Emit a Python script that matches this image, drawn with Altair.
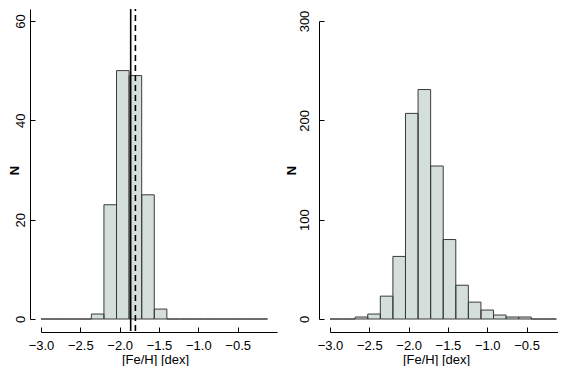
import altair as alt
import pandas as pd

# ---- data ----
bin_edges = [-3.00, -2.84, -2.68, -2.52, -2.36, -2.20, -2.04, -1.88, -1.72, -1.56,
             -1.40, -1.24, -1.08, -0.92, -0.76, -0.60, -0.44, -0.28, -0.12]
counts_left = [0, 0, 0, 0, 1, 23, 50, 49, 25, 2, 0, 0, 0, 0, 0, 0, 0, 0]
counts_right = [0, 0, 2, 5, 23, 63, 207, 231, 154, 80, 34, 17, 9, 4, 2, 2, 0, 0]
x_ticks = [-3.0, -2.5, -2.0, -1.5, -1.0, -0.5]
y_ticks_left = [0, 20, 40, 60]
y_ticks_right = [0, 100, 200, 300]
feh_solid = [-1.86]
feh_dashed = [-1.80]
usr_y_left = [-2.4, 62.4]   # plot-region limits of the left panel (ablines span it)

FONT = "Liberation Sans"
FS = 13
FILL = "#d4dfdc"
STROKE = "#3a3a3a"
H = 298          # pixels for 60 counts (left) / 300 counts (right)
H_L = 310        # panel height; left panel spans 0..62.4


def hist_df(counts):
    return pd.DataFrame({"lo": bin_edges[:-1], "hi": bin_edges[1:], "n": counts})


def panel(counts, xdom, width, yscale, yticks, label_pad, ytitle_x, ytitle_y,
          xtitle_x, ablines=False):
    df = hist_df(counts)
    xs = alt.Scale(domain=xdom, nice=False, zero=False)
    ys = yscale
    x_dom_axis = alt.Axis(orient="bottom", offset=13, domain=True, domainColor="black",
                          domainWidth=1, ticks=False, labels=False, grid=False, title=None)
    y_dom_axis = alt.Axis(orient="left", offset=11, domain=True, domainColor="black",
                          domainWidth=1, ticks=False, labels=False, grid=False, title=None)
    x_tick_axis = alt.Axis(
        orient="bottom", offset=8, domain=False, ticks=True, tickSize=5, tickColor="black",
        tickWidth=1, values=x_ticks, format=".1f", labelFont=FONT, labelFontSize=FS,
        labelColor="black", labelPadding=7, labelBaseline="top", labelAlign="center",
        labelFlush=False, labelOverlap=False, grid=False, title="[Fe/H] [dex]",
        titleFont=FONT, titleFontSize=FS, titleFontWeight="normal", titleColor="black",
        titleX=xtitle_x, titleY=36, titleBaseline="alphabetic", titleAlign="center")
    y_tick_axis = alt.Axis(
        orient="left", offset=6, domain=False, ticks=True, tickSize=5, tickColor="black",
        tickWidth=1, values=yticks, format="d", labelFont=FONT, labelFontSize=FS,
        labelColor="black", labelAngle=270, labelAlign="center", labelBaseline="alphabetic",
        labelPadding=label_pad, labelFlush=False, labelOverlap=False, grid=False,
        title="N", titleFont=FONT, titleFontSize=FS, titleFontWeight="bold",
        titleColor="black", titleAngle=270, titleX=ytitle_x, titleY=ytitle_y,
        titleBaseline="middle", titleAlign="center")

    fill = alt.Chart(df).mark_rect(fill=FILL, strokeWidth=0).encode(
        x=alt.X("lo:Q", scale=xs, axis=x_dom_axis),
        x2="hi:Q",
        y=alt.Y("n:Q", scale=ys, axis=y_dom_axis),
        y2=alt.datum(0),
    )
    outline = alt.Chart(df).mark_rect(filled=False, stroke=STROKE, strokeWidth=1).encode(
        x=alt.X("lo:Q", scale=xs, axis=x_tick_axis),
        x2="hi:Q",
        y=alt.Y("n:Q", scale=ys, axis=y_tick_axis),
        y2=alt.datum(0),
    )
    layers = [fill, outline]
    if ablines:
        for vals, dash in ((feh_solid, None), (feh_dashed, [6, 4])):
            rdf = pd.DataFrame({"x": vals, "y1": [usr_y_left[0]], "y2": [usr_y_left[1]]})
            kw = dict(color="black", strokeWidth=1.6)
            if dash:
                kw["strokeDash"] = dash
            layers.append(alt.Chart(rdf).mark_rule(**kw).encode(
                x=alt.X("x:Q", scale=xs, axis=None),
                y=alt.Y("y1:Q", scale=ys, axis=None),
                y2="y2:Q",
            ))
    return alt.layer(*layers).resolve_axis(x="independent", y="independent").properties(
        width=width, height=H_L)


left = panel(counts_left, [-3.0, 0.0], 236,
             alt.Scale(domain=[0, usr_y_left[1]], nice=False, zero=False),
             y_ticks_left, label_pad=6, ytitle_x=-21,
             ytitle_y=H_L * (1 - 30 / usr_y_left[1]), xtitle_x=114, ablines=True)
# right panel: 300 counts occupy the same pixel span as 60 counts on the left
right = panel(counts_right, [-3.0, -0.1], 228,
              alt.Scale(domain=[0, 300], range=[H_L, H_L - H], nice=False, zero=False),
              y_ticks_right, label_pad=11, ytitle_x=-32.5, ytitle_y=H_L - H / 2,
              xtitle_x=106)

chart = alt.concat(left, right, columns=2, spacing=8, align="none").properties(
    padding=0, background="white"
).configure_view(stroke=None)

chart.save("out.html", embed_options={"renderer": "svg", "actions": False})
